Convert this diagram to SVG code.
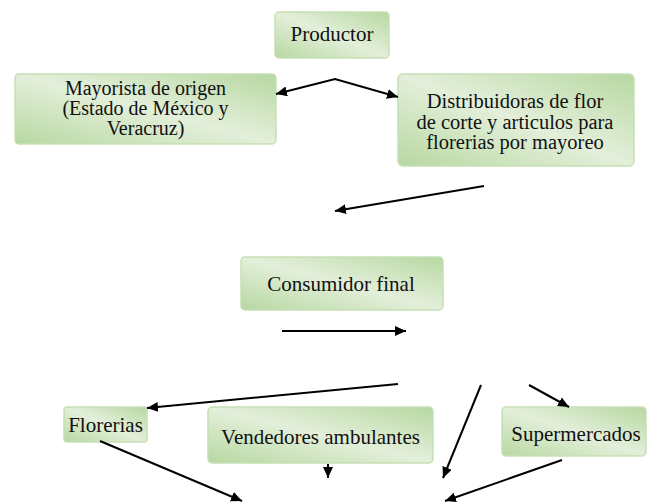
<svg xmlns="http://www.w3.org/2000/svg" width="647" height="504" viewBox="0 0 647 504">
<defs>
<linearGradient id="g" x1="0" y1="1" x2="1" y2="0">
<stop offset="0" stop-color="#b7d8a1"/>
<stop offset="0.5" stop-color="#e3efda"/>
<stop offset="1" stop-color="#b7d8a1"/>
</linearGradient>
<marker id="ah" viewBox="0 0 11 10" markerWidth="11" markerHeight="10" refX="11" refY="5" orient="auto-start-reverse" markerUnits="userSpaceOnUse">
<path d="M0,0 L11,5 L0,10 z" fill="#000"/>
</marker>
<style>
.box{fill:url(#g);stroke:#c6e0b5;stroke-width:1.5}
.t{font-size:21px;fill:#111;text-anchor:middle}
.m{font-size:20.5px}
.s{font-size:20px}
.c{fill:none;stroke:#000;stroke-width:2;marker-end:url(#ah)}
</style>
</defs>
<g font-family="'Liberation Serif', 'Times New Roman', serif">
<g id="productor"><rect class="box" x="275" y="12" width="114" height="46" rx="4"/><text class="t" x="332" y="41">Productor</text></g>
<g id="mayorista"><rect class="box" x="15" y="74" width="261" height="70" rx="4"/>
<text class="t s" x="145.5" y="94.5">Mayorista de origen</text>
<text class="t s" x="145.5" y="114.5">(Estado de México y</text>
<text class="t s" x="145.5" y="134.5">Veracruz)</text></g>
<g id="distribuidoras"><rect class="box" x="398" y="74" width="236" height="92" rx="5"/>
<text class="t m" x="515" y="108">Distribuidoras de flor</text>
<text class="t m" x="515" y="128.5">de corte y articulos para</text>
<text class="t m" x="515" y="149">florerias por mayoreo</text></g>
<g id="consumidor"><rect class="box" x="241" y="257" width="202" height="53" rx="4"/><text class="t" x="341" y="291">Consumidor final</text></g>
<g id="florerias"><rect class="box" x="64" y="407" width="83" height="35" rx="3"/><text class="t" x="105.5" y="432">Florerias</text></g>
<g id="vendedores"><rect class="box" x="208" y="407" width="225" height="56" rx="4"/><text class="t" x="320.5" y="444">Vendedores ambulantes</text></g>
<g id="supermercados"><rect class="box" x="502" y="407" width="144" height="49" rx="4"/><text class="t" x="576" y="441">Supermercados</text></g>
</g>
<g id="connectors">
<polyline class="c" points="276,94 335,79 398,97" style="marker-start:url(#ah)"/>
<line class="c" x1="484" y1="186" x2="335" y2="211"/>
<line class="c" x1="282" y1="331" x2="406" y2="331"/>
<line class="c" x1="398" y1="384" x2="147" y2="408"/>
<line class="c" x1="481" y1="385" x2="443" y2="478"/>
<line class="c" x1="529" y1="385" x2="569" y2="407"/>
<line class="c" x1="100" y1="441" x2="242" y2="501"/>
<line class="c" x1="328" y1="464" x2="328" y2="478"/>
<line class="c" x1="562" y1="460" x2="445" y2="501"/>
</g>
</svg>
